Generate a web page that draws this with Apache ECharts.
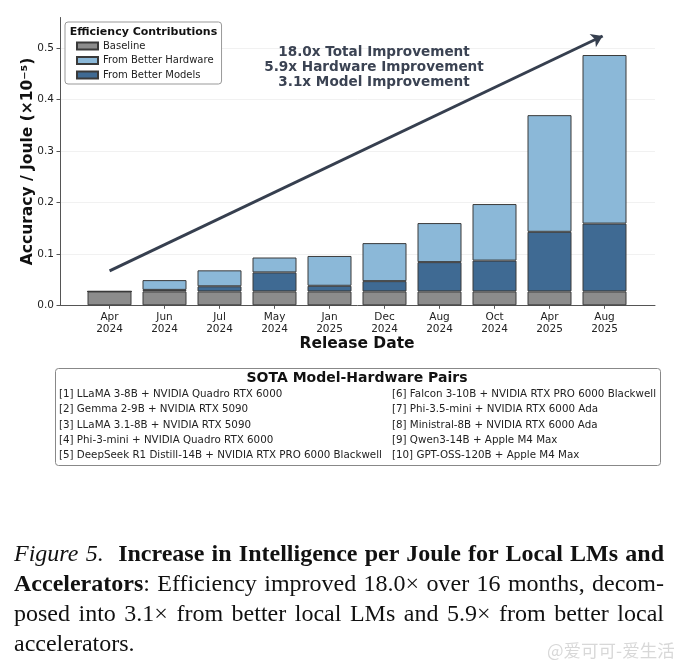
<!DOCTYPE html>
<html>
<head>
<meta charset="utf-8">
<script src="https://cdn.jsdelivr.net/npm/echarts@6/dist/echarts.min.js"></script>
<style>
  html, body { margin: 0; padding: 0; background: #fff; }
  #chart { position: absolute; left: 0; top: 0; width: 684px; height: 667px; }
  #caption { position: absolute; left: 14px; top: 538px; width: 650px;
    font-family: "Liberation Serif", "Times New Roman", serif; font-size: 24px; line-height: 30px; color: #111; }
  #caption .ln { text-align: justify; text-align-last: justify; white-space: nowrap; }
  #caption .last { text-align: left; text-align-last: left; }
  #wm { position: absolute; left: 547px; top: 637px; font-family: "Noto Sans CJK SC", sans-serif;
    font-size: 17.5px; color: #d8d8d8; }
</style>
</head>
<body>
<div id="chart"></div>
<div id="caption">
  <div class="ln"><i>Figure 5.</i>&nbsp; <b>Increase in Intelligence per Joule for Local LMs and</b></div>
  <div class="ln"><b>Accelerators</b>: Efficiency improved 18.0× over 16 months, decom-</div>
  <div class="ln">posed into 3.1× from better local LMs and 5.9× from better local</div>
  <div class="ln last">accelerators.</div>
</div>
<div id="wm">@爱可可-爱生活</div>
<script>
// ---- data ----
const categories = ['Apr\n2024','Jun\n2024','Jul\n2024','May\n2024','Jan\n2025','Dec\n2024','Aug\n2024','Oct\n2024','Apr\n2025','Aug\n2025'];
const baseline = [0.027,0.027,0.027,0.027,0.027,0.027,0.027,0.027,0.027,0.027];
const fromModels = [0,0.003,0.010,0.037,0.011,0.020,0.057,0.060,0.116,0.132];
const fromHardware = [0,0.019,0.031,0.029,0.058,0.074,0.076,0.110,0.227,0.328];
const yTicks = [0,0.1,0.2,0.3,0.4,0.5];
const arrowStart = [0, 0.067];
const arrowEnd = [8.95, 0.524];
const annotationLines = ['18.0x Total Improvement','5.9x Hardware Improvement','3.1x Model Improvement'];
const legendTitle = 'Efficiency Contributions';
const pairsTitle = 'SOTA Model-Hardware Pairs';
const pairsLeft = ['[1] LLaMA 3-8B + NVIDIA Quadro RTX 6000','[2] Gemma 2-9B + NVIDIA RTX 5090','[3] LLaMA 3.1-8B + NVIDIA RTX 5090','[4] Phi-3-mini + NVIDIA Quadro RTX 6000','[5] DeepSeek R1 Distill-14B + NVIDIA RTX PRO 6000 Blackwell'];
const pairsRight = ['[6] Falcon 3-10B + NVIDIA RTX PRO 6000 Blackwell','[7] Phi-3.5-mini + NVIDIA RTX 6000 Ada','[8] Ministral-8B + NVIDIA RTX 6000 Ada','[9] Qwen3-14B + Apple M4 Max','[10] GPT-OSS-120B + Apple M4 Max'];

const FONT = 'DejaVu Sans';
const chart = echarts.init(document.getElementById('chart'));
const barBorder = { borderColor: '#3a3a3a', borderWidth: 1 };

const graphics = [];
annotationLines.forEach((t, i) => {
  graphics.push({ type: 'text', z: 100, x: 374, y: 52.5 + i * 15, style: { text: t, fill: '#3b4353',
    font: 'bold 13.6px "DejaVu Sans"', textAlign: 'center', textVerticalAlign: 'middle' } });
});
graphics.push({ type: 'text', x: 143.5, y: 32, z: 100, style: { text: legendTitle, fill: '#111',
  font: 'bold 11px "DejaVu Sans"', textAlign: 'center', textVerticalAlign: 'middle' } });
graphics.push({ type: 'rect', z: 90, shape: { x: 55.5, y: 368.5, width: 605, height: 97, r: 3 },
  style: { fill: '#fff', stroke: '#888', lineWidth: 1 } });
graphics.push({ type: 'text', z: 100, x: 357, y: 378.5, style: { text: pairsTitle, fill: '#111',
  font: 'bold 14px "DejaVu Sans"', textAlign: 'center', textVerticalAlign: 'middle' } });
pairsLeft.forEach((t, i) => {
  graphics.push({ type: 'text', z: 100, x: 59, y: 394.5 + i * 15.2, style: { text: t, fill: '#222',
    font: '10.3px "DejaVu Sans"', textAlign: 'left', textVerticalAlign: 'middle' } });
});
pairsRight.forEach((t, i) => {
  graphics.push({ type: 'text', z: 100, x: 392, y: 394.5 + i * 15.2, style: { text: t, fill: '#222',
    font: '10.3px "DejaVu Sans"', textAlign: 'left', textVerticalAlign: 'middle' } });
});

const option = {
  animation: false,
  backgroundColor: '#fff',
  textStyle: { fontFamily: FONT },
  grid: [
    { left: 60, right: 29, top: 17.5, bottom: 361.7 },
    { left: 82, right: 52, top: 17.5, bottom: 361.7 }
  ],
  xAxis: [
    { type: 'value', gridIndex: 0, min: -0.9, max: 9.9,
      axisLine: { show: true, onZero: false, lineStyle: { color: '#555' } },
      axisTick: { show: false }, axisLabel: { show: false }, splitLine: { show: false } },
    { type: 'category', gridIndex: 1, data: categories, axisLine: { show: false },
      axisTick: { show: true, alignWithLabel: true, length: 3.5, lineStyle: { color: '#555' } },
      axisLabel: { fontFamily: FONT, fontSize: 10.5, color: '#222', lineHeight: 12, margin: 6, interval: 0 },
      name: 'Release Date', nameLocation: 'middle', nameGap: 31,
      nameTextStyle: { fontFamily: FONT, fontSize: 15.5, fontWeight: 'bold', color: '#111' } }
  ],
  yAxis: [
    { type: 'value', gridIndex: 0, min: 0, max: 0.56,
      axisLine: { show: true, onZero: false, lineStyle: { color: '#555' } },
      axisTick: { show: true, length: 3.5, customValues: yTicks, lineStyle: { color: '#555' } },
      axisLabel: { fontFamily: FONT, fontSize: 10.5, color: '#222', margin: 6, customValues: yTicks,
        formatter: v => v.toFixed(1) },
      splitLine: { show: true, lineStyle: { color: '#f1f1f1', width: 1 } },
      name: 'Accuracy / Joule (×10⁻⁵)', nameLocation: 'middle', nameGap: 24, nameMoveOverlap: false,
      nameTextStyle: { fontFamily: FONT, fontSize: 15.5, fontWeight: 'bold', color: '#111' } },
    { type: 'value', gridIndex: 1, min: 0, max: 0.56, show: false, splitLine: { show: false } }
  ],
  legend: {
    orient: 'vertical', left: 65, top: 22, padding: [18, 8, 3, 11],
    backgroundColor: '#fff', borderColor: '#999', borderWidth: 1, borderRadius: 3,
    itemWidth: 21, itemHeight: 7, itemGap: 2.5, icon: 'rect',
    textStyle: { fontFamily: FONT, fontSize: 10, color: '#222', lineHeight: 12 },
    data: ['Baseline', 'From Better Hardware', 'From Better Models']
  },
  series: [
    { name: 'Baseline', type: 'bar', xAxisIndex: 1, yAxisIndex: 1, stack: 's', barWidth: '80%',
      data: baseline, itemStyle: Object.assign({ color: '#8c8c8c' }, barBorder) },
    { name: 'From Better Models', type: 'bar', xAxisIndex: 1, yAxisIndex: 1, stack: 's', barWidth: '80%',
      data: fromModels, itemStyle: Object.assign({ color: '#3f6a93' }, barBorder) },
    { name: 'From Better Hardware', type: 'bar', xAxisIndex: 1, yAxisIndex: 1, stack: 's', barWidth: '80%',
      data: fromHardware, itemStyle: Object.assign({ color: '#8bb8d8' }, barBorder) },
    { name: 'arrow', type: 'line', xAxisIndex: 0, yAxisIndex: 0, data: [], silent: true,
      markLine: { silent: true, symbol: ['none', 'arrow'], symbolSize: 11, animation: false,
        label: { show: false },
        lineStyle: { color: '#363f4f', width: 3, type: 'solid', opacity: 1 },
        data: [[{ coord: arrowStart }, { coord: arrowEnd }]] } }
  ],
  graphic: graphics
};
chart.setOption(option);
</script>
</body>
</html>
